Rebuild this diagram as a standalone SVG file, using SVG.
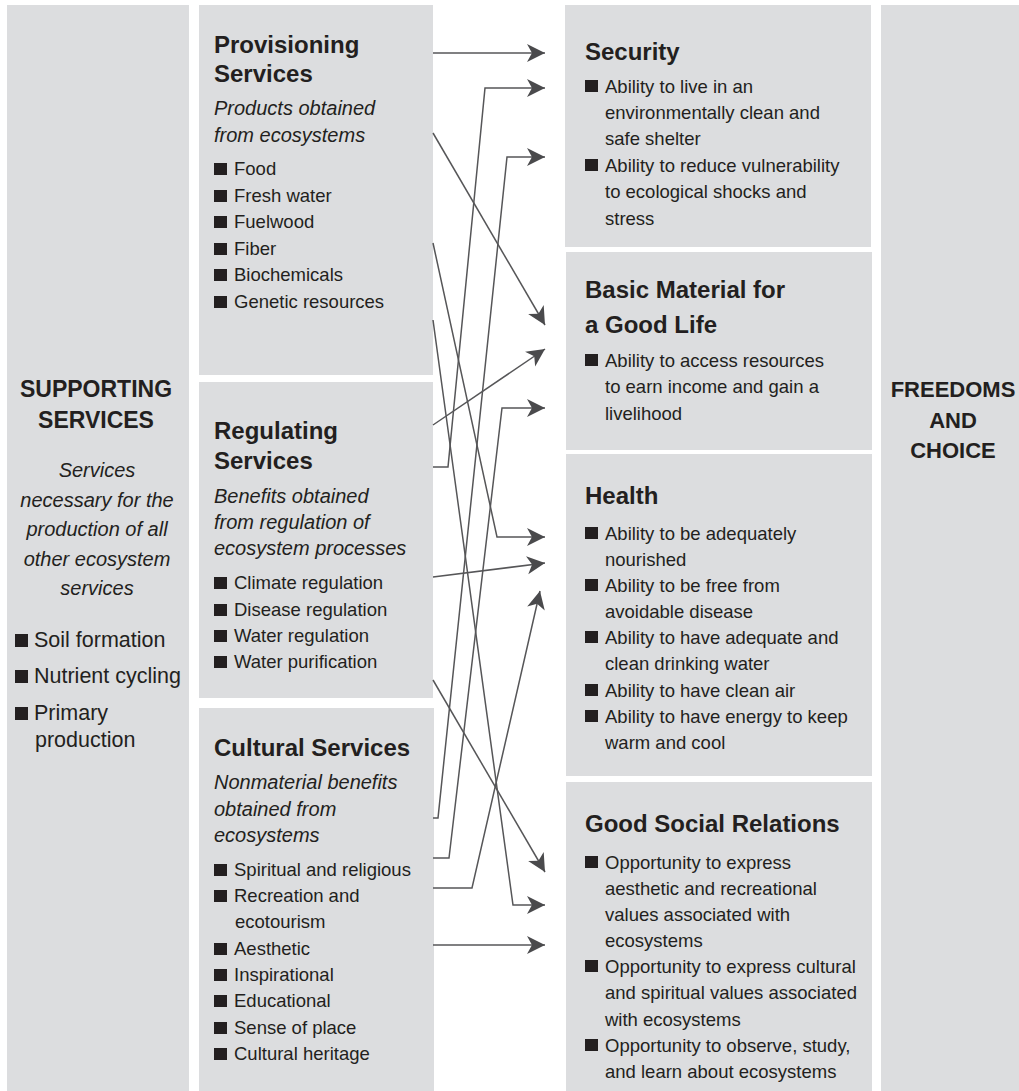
<svg xmlns="http://www.w3.org/2000/svg" xmlns:xlink="http://www.w3.org/1999/xlink" width="1019" height="1091" viewBox="0 0 1019 1091">
<style>
.box{fill:#dcdddf}
text{font-family:"Liberation Sans",Arial,sans-serif;fill:#231f20}
.h{font-weight:bold;font-size:24px}
.hs{font-weight:bold;font-size:23px;text-anchor:middle}
.i{font-style:italic;font-size:20px}
.im{font-style:italic;font-size:20px;text-anchor:middle}
.b{font-size:18.5px}
.bl{font-size:21.5px}
.sq{fill:#231f20}
.c{fill:none;stroke:#565658;stroke-width:1.5;marker-end:url(#ah)}
</style>
<defs>
<marker id="ah" markerUnits="userSpaceOnUse" markerWidth="20" markerHeight="20" viewBox="-19 -10 20 20" refX="0" refY="0" orient="auto">
<path d="M0,0 L-18,-9 L-13,0 L-18,9 Z" fill="#4a4a4c"/>
</marker>
<rect id="sq" class="sq" width="13" height="12"/>
<rect id="sql" class="sq" width="13" height="13"/>
</defs>
<rect width="1019" height="1091" fill="#ffffff"/>

<g id="supporting">
<rect class="box" x="7" y="5" width="182" height="1086"/>
<text class="hs" x="96" y="397">SUPPORTING</text>
<text class="hs" x="96" y="428">SERVICES</text>
<text class="im" x="97" y="477">Services</text>
<text class="im" x="97" y="507">necessary for the</text>
<text class="im" x="97" y="536">production of all</text>
<text class="im" x="97" y="566">other ecosystem</text>
<text class="im" x="97" y="595">services</text>
<use xlink:href="#sql" x="15" y="634"/><text class="bl" x="34" y="647">Soil formation</text>
<use xlink:href="#sql" x="15" y="670"/><text class="bl" x="34" y="683">Nutrient cycling</text>
<use xlink:href="#sql" x="15" y="707"/><text class="bl" x="34" y="720">Primary</text>
<text class="bl" x="35" y="747">production</text>
</g>

<g id="provisioning">
<rect class="box" x="199" y="5" width="234" height="370"/>
<text class="h" x="214" y="53">Provisioning</text>
<text class="h" x="214" y="82">Services</text>
<text class="i" x="214" y="115">Products obtained</text>
<text class="i" x="214" y="142">from ecosystems</text>
<use xlink:href="#sq" x="214" y="163"/><text class="b" x="234" y="175">Food</text>
<use xlink:href="#sq" x="214" y="190"/><text class="b" x="234" y="202">Fresh water</text>
<use xlink:href="#sq" x="214" y="216"/><text class="b" x="234" y="228">Fuelwood</text>
<use xlink:href="#sq" x="214" y="243"/><text class="b" x="234" y="255">Fiber</text>
<use xlink:href="#sq" x="214" y="269"/><text class="b" x="234" y="281">Biochemicals</text>
<use xlink:href="#sq" x="214" y="296"/><text class="b" x="234" y="308">Genetic resources</text>
</g>

<g id="regulating">
<rect class="box" x="199" y="382" width="234" height="316"/>
<text class="h" x="214" y="439">Regulating</text>
<text class="h" x="214" y="469">Services</text>
<text class="i" x="214" y="503">Benefits obtained</text>
<text class="i" x="214" y="529">from regulation of</text>
<text class="i" x="214" y="555">ecosystem processes</text>
<use xlink:href="#sq" x="214" y="577"/><text class="b" x="234" y="589">Climate regulation</text>
<use xlink:href="#sq" x="214" y="604"/><text class="b" x="234" y="616">Disease regulation</text>
<use xlink:href="#sq" x="214" y="630"/><text class="b" x="234" y="642">Water regulation</text>
<use xlink:href="#sq" x="214" y="656"/><text class="b" x="234" y="668">Water purification</text>
</g>

<g id="cultural">
<rect class="box" x="199" y="708" width="235" height="383"/>
<text class="h" x="214" y="756">Cultural Services</text>
<text class="i" x="214" y="789">Nonmaterial benefits</text>
<text class="i" x="214" y="816">obtained from</text>
<text class="i" x="214" y="842">ecosystems</text>
<use xlink:href="#sq" x="214" y="864"/><text class="b" x="234" y="876">Spiritual and religious</text>
<use xlink:href="#sq" x="214" y="890"/><text class="b" x="234" y="902">Recreation and</text>
<text class="b" x="235" y="928">ecotourism</text>
<use xlink:href="#sq" x="214" y="943"/><text class="b" x="234" y="955">Aesthetic</text>
<use xlink:href="#sq" x="214" y="969"/><text class="b" x="234" y="981">Inspirational</text>
<use xlink:href="#sq" x="214" y="995"/><text class="b" x="234" y="1007">Educational</text>
<use xlink:href="#sq" x="214" y="1022"/><text class="b" x="234" y="1034">Sense of place</text>
<use xlink:href="#sq" x="214" y="1048"/><text class="b" x="234" y="1060">Cultural heritage</text>
</g>

<g id="security">
<rect class="box" x="565" y="5" width="306" height="242"/>
<text class="h" x="585" y="60">Security</text>
<use xlink:href="#sq" x="585" y="80"/><text class="b" x="605" y="93">Ability to live in an</text>
<text class="b" x="605" y="119">environmentally clean and</text>
<text class="b" x="605" y="145">safe shelter</text>
<use xlink:href="#sq" x="585" y="159"/><text class="b" x="605" y="172">Ability to reduce vulnerability</text>
<text class="b" x="605" y="198">to ecological shocks and</text>
<text class="b" x="605" y="225">stress</text>
</g>

<g id="basic-material">
<rect class="box" x="566" y="252" width="306" height="198"/>
<text class="h" x="585" y="298">Basic Material for</text>
<text class="h" x="585" y="333">a Good Life</text>
<use xlink:href="#sq" x="585" y="354"/><text class="b" x="605" y="367">Ability to access resources</text>
<text class="b" x="605" y="393">to earn income and gain a</text>
<text class="b" x="605" y="420">livelihood</text>
</g>

<g id="health">
<rect class="box" x="566" y="454" width="306" height="322"/>
<text class="h" x="585" y="504">Health</text>
<use xlink:href="#sq" x="585" y="527"/><text class="b" x="605" y="540">Ability to be adequately</text>
<text class="b" x="605" y="566">nourished</text>
<use xlink:href="#sq" x="585" y="579"/><text class="b" x="605" y="592">Ability to be free from</text>
<text class="b" x="605" y="618">avoidable disease</text>
<use xlink:href="#sq" x="585" y="631"/><text class="b" x="605" y="644">Ability to have adequate and</text>
<text class="b" x="605" y="670">clean drinking water</text>
<use xlink:href="#sq" x="585" y="684"/><text class="b" x="605" y="697">Ability to have clean air</text>
<use xlink:href="#sq" x="585" y="710"/><text class="b" x="605" y="723">Ability to have energy to keep</text>
<text class="b" x="605" y="749">warm and cool</text>
</g>

<g id="social-relations">
<rect class="box" x="566" y="782" width="306" height="309"/>
<text class="h" x="585" y="832">Good Social Relations</text>
<use xlink:href="#sq" x="585" y="856"/><text class="b" x="605" y="869">Opportunity to express</text>
<text class="b" x="605" y="895">aesthetic and recreational</text>
<text class="b" x="605" y="921">values associated with</text>
<text class="b" x="605" y="947">ecosystems</text>
<use xlink:href="#sq" x="585" y="960"/><text class="b" x="605" y="973">Opportunity to express cultural</text>
<text class="b" x="605" y="999">and spiritual values associated</text>
<text class="b" x="605" y="1026">with ecosystems</text>
<use xlink:href="#sq" x="585" y="1039"/><text class="b" x="605" y="1052">Opportunity to observe, study,</text>
<text class="b" x="605" y="1078">and learn about ecosystems</text>
</g>

<g id="freedoms">
<rect class="box" x="881" y="5" width="138" height="1086"/>
<text class="h" style="font-size:22px;text-anchor:middle" x="953" y="397">FREEDOMS</text>
<text class="h" style="font-size:22px;text-anchor:middle" x="953" y="428">AND</text>
<text class="h" style="font-size:22px;text-anchor:middle" x="953" y="458">CHOICE</text>
</g>

<g id="connectors">
<polyline class="c" points="433,53 545,53"/>
<polyline class="c" points="433,467 448,467 485,88 545,88"/>
<polyline class="c" points="433,818 438,818 507,157 545,157"/>
<polyline class="c" points="433,133 545,325"/>
<polyline class="c" points="433,425 545,349"/>
<polyline class="c" points="433,858 449,858 502,408 545,408"/>
<polyline class="c" points="433,243 497,537 545,537"/>
<polyline class="c" points="433,577 545,563"/>
<polyline class="c" points="433,888 472,888 540,591"/>
<polyline class="c" points="433,680 545,872"/>
<polyline class="c" points="433,320 513,905 545,905"/>
<polyline class="c" points="433,945 545,945"/>
</g>
</svg>
